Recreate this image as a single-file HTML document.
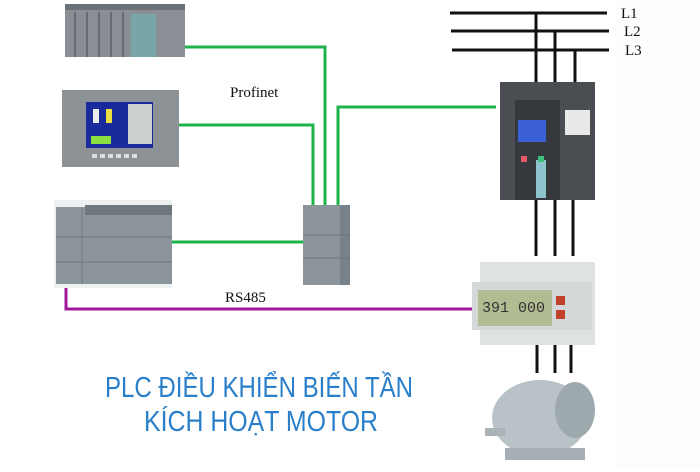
<!DOCTYPE html>
<html><head><meta charset="utf-8"><style>html,body{margin:0;padding:0;background:#fff}</style></head><body>
<svg width="700" height="467" viewBox="0 0 700 467" xmlns="http://www.w3.org/2000/svg" font-family="Liberation Serif, serif">
<rect width="700" height="467" fill="#fff"/>
<rect x="615" y="0" width="85" height="467" fill="#fdfdfb"/>
<!-- green lines -->
<g stroke="#1db34a" stroke-width="3" fill="none">
<polyline points="185,47 325,47 325,206"/>
<polyline points="178,125 313,125 313,206"/>
<polyline points="172,242 303,242"/>
<polyline points="338,206 338,107 496,107"/>
</g>
<polyline points="66,288 66,309 472,309" stroke="#a0189a" stroke-width="3" fill="none"/>
<!-- power lines -->
<g stroke="#111" stroke-width="3" fill="none">
<line x1="450" y1="13" x2="607" y2="13"/><line x1="451" y1="31" x2="609" y2="31"/><line x1="452" y1="50" x2="609" y2="50"/>
<line x1="536" y1="13" x2="536" y2="82"/><line x1="555" y1="31" x2="555" y2="82"/><line x1="575" y1="50" x2="575" y2="82"/>
<line x1="536" y1="198" x2="536" y2="256"/><line x1="555" y1="198" x2="555" y2="256"/><line x1="573" y1="198" x2="573" y2="256"/>
<line x1="537" y1="345" x2="537" y2="373"/><line x1="555" y1="345" x2="555" y2="373"/><line x1="571" y1="345" x2="571" y2="373"/>
</g>
<g font-size="15" fill="#111"><text x="621" y="18">L1</text><text x="624" y="36">L2</text><text x="625" y="55">L3</text></g>
<text x="230" y="97" font-size="15" fill="#111">Profinet</text>
<text x="225" y="302" font-size="15" fill="#111">RS485</text>
<!-- rack -->
<rect x="65" y="4" width="120" height="53" fill="#8a8f95"/>
<rect x="65" y="4" width="120" height="6" fill="#6d7277"/>
<g stroke="#5c6166" stroke-width="1.5"><line x1="75" y1="12" x2="75" y2="57"/><line x1="87" y1="12" x2="87" y2="57"/><line x1="99" y1="12" x2="99" y2="57"/><line x1="111" y1="12" x2="111" y2="57"/><line x1="123" y1="12" x2="123" y2="57"/></g>
<rect x="131" y="14" width="25" height="43" fill="#7aa5a8"/>
<!-- HMI -->
<rect x="62" y="90" width="117" height="77" fill="#8d9297"/>
<rect x="86" y="102" width="67" height="46" fill="#1a2a9a"/>
<rect x="128" y="104" width="24" height="40" fill="#ccd0d0"/>
<rect x="91" y="136" width="20" height="8" fill="#8be040"/>
<rect x="93" y="109" width="6" height="14" fill="#eee"/><rect x="106" y="109" width="6" height="14" fill="#e8e040"/>
<g fill="#ddd"><rect x="92" y="154" width="5" height="4"/><rect x="100" y="154" width="5" height="4"/><rect x="108" y="154" width="5" height="4"/><rect x="116" y="154" width="5" height="4"/><rect x="124" y="154" width="5" height="4"/><rect x="132" y="154" width="5" height="4"/></g>
<!-- PLC -->
<rect x="54" y="200" width="118" height="88" fill="#edf0f1"/>
<rect x="56" y="207" width="116" height="77" fill="#8c959b"/>
<rect x="85" y="205" width="87" height="10" fill="#6e777c"/>
<line x1="56" y1="237" x2="172" y2="237" stroke="#6f777c"/><line x1="56" y1="262" x2="172" y2="262" stroke="#6f777c"/>
<line x1="82" y1="207" x2="82" y2="284" stroke="#6f777c"/>
<!-- switch -->
<rect x="303" y="205" width="47" height="80" fill="#8b959b"/>
<rect x="340" y="205" width="10" height="80" fill="#77828a"/>
<line x1="303" y1="235" x2="350" y2="235" stroke="#6e777c"/><line x1="303" y1="258" x2="350" y2="258" stroke="#6e777c"/>
<!-- drive -->
<rect x="500" y="82" width="95" height="118" fill="#4a4d52"/>
<rect x="515" y="100" width="45" height="100" fill="#35383c"/>
<rect x="518" y="120" width="28" height="22" fill="#3b5fd6"/>
<rect x="536" y="160" width="10" height="38" fill="#8ec4cc"/>
<rect x="521" y="156" width="6" height="6" fill="#e45a6a"/><rect x="538" y="156" width="6" height="6" fill="#3dc07a"/>
<rect x="565" y="110" width="25" height="25" fill="#e9e9e9"/>
<!-- meter -->
<rect x="480" y="262" width="115" height="83" fill="#dfe2e3"/>
<rect x="472" y="282" width="120" height="48" fill="#d4d8d8"/>
<rect x="478" y="290" width="74" height="36" fill="#b2bc92"/>
<text x="482" y="312" font-family="Liberation Mono, monospace" font-size="15" fill="#333">391 000</text>
<rect x="556" y="296" width="9" height="9" fill="#c1412a"/><rect x="556" y="310" width="9" height="9" fill="#c1412a"/>
<!-- motor -->
<ellipse cx="540" cy="418" rx="48" ry="38" fill="#b9c2c6"/>
<ellipse cx="575" cy="410" rx="20" ry="28" fill="#9ea9ae"/>
<rect x="485" y="428" width="20" height="8" fill="#aab4b8"/>
<rect x="505" y="448" width="80" height="12" fill="#a6b0b4"/>
<!-- title -->
<g font-family="Liberation Sans, sans-serif" font-size="29" fill="#2a7fca">
<text x="105" y="397" textLength="308" lengthAdjust="spacingAndGlyphs">PLC ĐIỀU KHIỂN BIẾN TẦN</text>
<text x="144" y="431" textLength="234" lengthAdjust="spacingAndGlyphs">KÍCH HOẠT MOTOR</text>
</g>
</svg>
</body></html>
